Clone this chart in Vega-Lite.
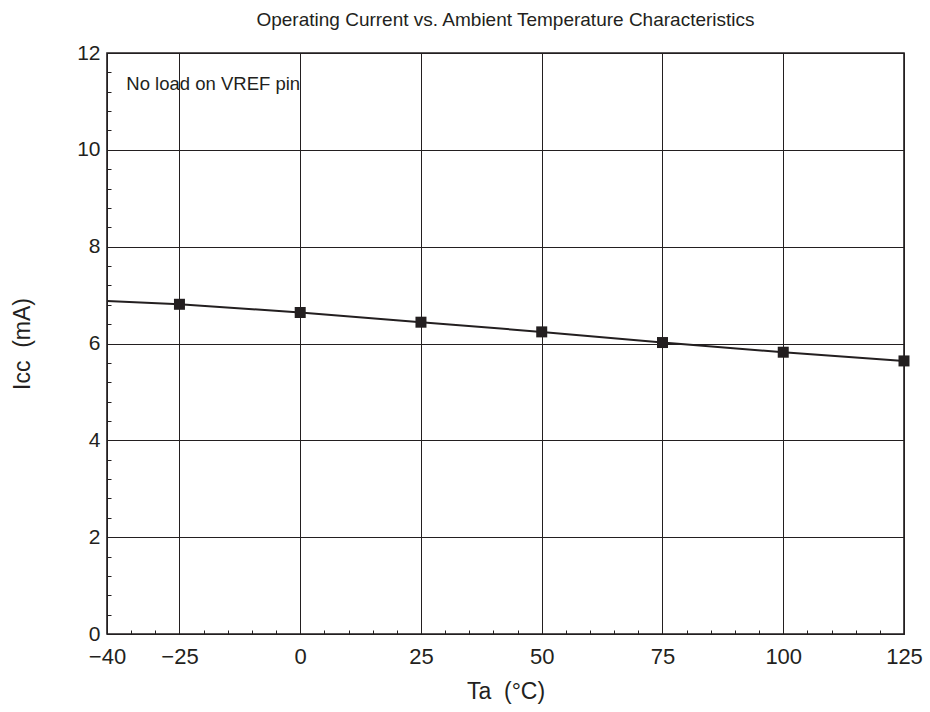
{
  "$schema": "https://vega.github.io/schema/vega-lite/v6.json",
  "width": 797,
  "height": 581,
  "autosize": {"type": "none"},
  "padding": {"left": 107, "top": 53, "right": 26, "bottom": 78},
  "background": "white",
  "config": {
    "view": {"stroke": "#231f20", "strokeWidth": 1.6},
    "font": "Liberation Sans",
    "axis": {"labelFont": "Liberation Sans", "titleFont": "Liberation Sans"}
  },
  "title": {
    "text": "Operating Current vs. Ambient Temperature Characteristics",
    "fontSize": 19,
    "fontWeight": "normal",
    "color": "#231f20",
    "anchor": "middle",
    "offset": 12
  },
  "datasets": {
    "curve": [
      {"Ta": -40, "Icc": 6.88, "marker": false},
      {"Ta": -25, "Icc": 6.81, "marker": true},
      {"Ta": 0, "Icc": 6.64, "marker": true},
      {"Ta": 25, "Icc": 6.44, "marker": true},
      {"Ta": 50, "Icc": 6.24, "marker": true},
      {"Ta": 75, "Icc": 6.02, "marker": true},
      {"Ta": 100, "Icc": 5.82, "marker": true},
      {"Ta": 125, "Icc": 5.64, "marker": true}
    ],
    "note": [
      {"Ta": -36, "Icc": 11.24, "label": "No load on VREF pin"}
    ]
  },
  "layer": [
    {
      "data": {"name": "curve"},
      "mark": {"type": "line", "color": "#231f20", "strokeWidth": 2},
      "encoding": {
        "x": {
          "field": "Ta", "type": "quantitative",
          "scale": {"domain": [-40, 125], "nice": false, "zero": false},
          "axis": {
            "orient": "bottom",
            "values": [-40, -25, 0, 25, 50, 75, 100, 125],
            "grid": true, "gridColor": "#231f20", "gridWidth": 1, "gridOpacity": 1,
            "ticks": false, "domain": false,
            "labelFontSize": 22, "labelColor": "#231f20", "labelPadding": 12,
            "labelFlush": false,
            "title": "Ta\u00a0\u00a0(°C)", "titleFontSize": 23, "titleFontWeight": "normal",
            "titleColor": "#231f20", "titlePadding": 13
          }
        },
        "y": {
          "field": "Icc", "type": "quantitative",
          "scale": {"domain": [0, 12], "nice": false, "zero": false},
          "axis": {
            "orient": "left",
            "values": [0, 2, 4, 6, 8, 10, 12],
            "grid": true, "gridColor": "#231f20", "gridWidth": 1, "gridOpacity": 1,
            "ticks": false, "domain": false,
            "labelFontSize": 21, "labelColor": "#231f20", "labelPadding": 7,
            "labelFlush": false,
            "title": "Icc\u00a0\u00a0(mA)", "titleFontSize": 23, "titleFontWeight": "normal",
            "titleColor": "#231f20", "titlePadding": 42
          }
        }
      }
    },
    {
      "data": {"name": "curve"},
      "transform": [{"filter": "datum.marker"}],
      "mark": {"type": "point", "shape": "square", "filled": true, "size": 121, "color": "#231f20", "opacity": 1},
      "encoding": {
        "x": {
          "field": "Ta", "type": "quantitative",
          "axis": {
            "orient": "bottom",
            "values": [-40, -35, -30, -25, -20, -15, -10, -5, 0, 5, 10, 15, 20, 25, 30, 35, 40, 45, 50, 55, 60, 65, 70, 75, 80, 85, 90, 95, 100, 105, 110, 115, 120, 125],
            "grid": false, "labels": false, "domain": false, "title": null,
            "ticks": true, "tickSize": -4, "tickColor": "#231f20", "tickWidth": 1
          }
        },
        "y": {
          "field": "Icc", "type": "quantitative",
          "axis": {
            "orient": "left",
            "values": [0, 0.4, 0.8, 1.2, 1.6, 2, 2.4, 2.8, 3.2, 3.6, 4, 4.4, 4.8, 5.2, 5.6, 6, 6.4, 6.8, 7.2, 7.6, 8, 8.4, 8.8, 9.2, 9.6, 10, 10.4, 10.8, 11.2, 11.6, 12],
            "grid": false, "labels": false, "domain": false, "title": null,
            "ticks": true, "tickSize": -4, "tickColor": "#231f20", "tickWidth": 1
          }
        }
      }
    },
    {
      "data": {"name": "note"},
      "mark": {"type": "text", "align": "left", "baseline": "alphabetic", "fontSize": 18.5, "color": "#231f20", "font": "Liberation Sans"},
      "encoding": {
        "x": {"field": "Ta", "type": "quantitative", "axis": null},
        "y": {"field": "Icc", "type": "quantitative", "axis": null},
        "text": {"field": "label"}
      }
    }
  ],
  "resolve": {"axis": {"x": "independent", "y": "independent"}}
}
